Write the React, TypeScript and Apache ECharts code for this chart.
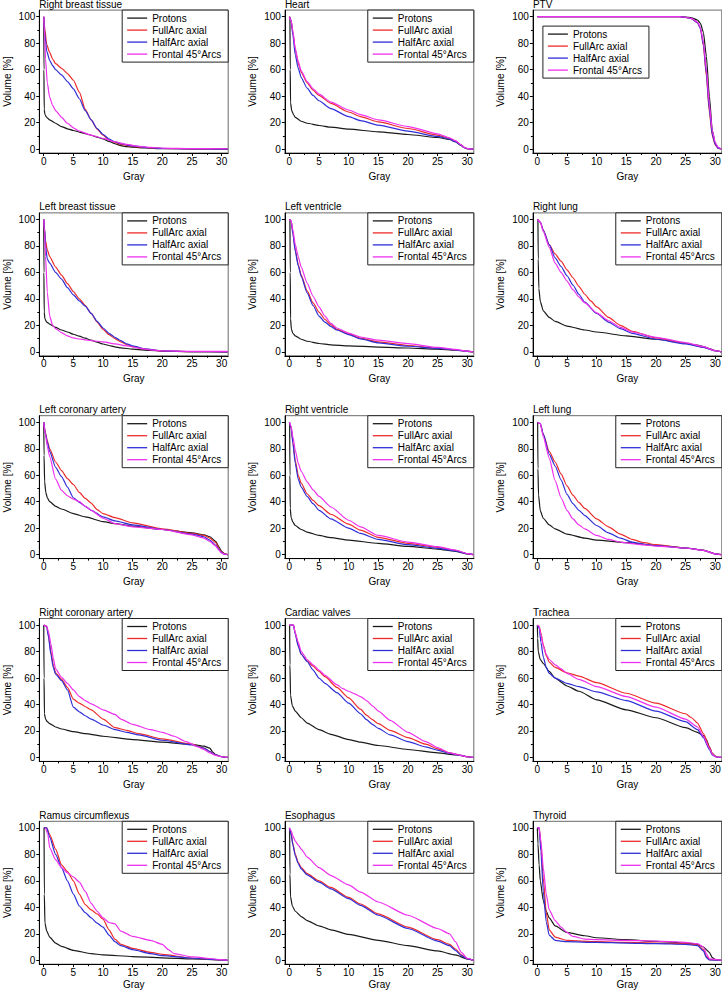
import React, { useEffect, useRef } from 'react';
import * as echarts from 'echarts';

const seriesNames = ['Protons', 'FullArc axial', 'HalfArc axial', 'Frontal 45°Arcs'];
const seriesColors = ['#1a1a1a', '#ee2b2b', '#2f2fd8', '#ee30ee'];
const xMajorTicks = [0, 5, 10, 15, 20, 25, 30];
const xMinorTicks = [2.5, 7.5, 12.5, 17.5, 22.5, 27.5];
const yMajorTicks = [0, 20, 40, 60, 80, 100];
const yMinorTicks = [10, 30, 50, 70, 90];
const panelTitles = [
  'Right breast tissue', 'Heart', 'PTV',
  'Left breast tissue', 'Left ventricle', 'Right lung',
  'Left coronary artery', 'Right ventricle', 'Left lung',
  'Right coronary artery', 'Cardiac valves', 'Trachea',
  'Ramus circumflexus', 'Esophagus', 'Thyroid',
];

// Right breast tissue
const rbtP = [[0,100],[0.03,60],[0.08,30],[0.2,26],[0.5,24],[1,22],[2,19.5],[3,17],[4,15.3],[5,14],[6,12.8],[7,11.6],[8,10.4],[9,9],[10,7.6],[11,5.8],[12,4],[13,2.6],[14,1.8],[15,1.4],[17,0.8],[20,0.3],[25,0.1],[31,0]];
const rbtF = [[0,100],[0.2,90],[0.5,79],[1,73],[1.5,68],[2,64.5],[3,61],[4,57],[5,52],[6,43],[7,30],[8,22],[9,15],[10,10.5],[11,7],[12,5],[13,3.5],[15,2],[18,0.9],[20,0.4],[25,0.1],[31,0]];
const rbtH = [[0,100],[0.2,86],[0.5,74],[1,67],[1.5,63],[2,60],[3,56],[4,51],[5,45.5],[6,38],[7,29],[8,22],[9,15.5],[10,11],[11,7.5],[12,5.5],[13,4],[15,2.4],[18,1],[20,0.4],[25,0.1],[31,0]];
const rbtR = [[0,100],[0.15,85],[0.3,68],[0.6,50],[1,39],[1.5,33],[2,29],[3,24],[4,19.5],[5,16],[6,13.5],[8,10.5],[10,8],[12,5.5],[14,3.5],[16,2],[18,1.2],[20,0.7],[25,0.3],[31,0.2]];

// Heart
const hrtP = [[0.1,100],[0.15,60],[0.2,35],[0.4,29],[0.7,26],[1,24],[2,21],[3,19.5],[5,17.8],[7,16.5],[10,15],[15,13],[20,11],[25,8.7],[27,7.2],[28,5.5],[29,2.5],[29.5,1],[30,0.2],[31,0]];
const hrtF = [[0,100],[0.3,97],[0.6,88],[1,75],[1.5,65],[2,58],[3,50],[4,44.5],[5,40.5],[7,34.5],[10,28],[12,24.5],[15,20.5],[20,15.5],[25,10.5],[27,8],[28,6],[29,3],[29.5,1.2],[30,0.3],[31,0]];
const hrtH = [[0,100],[0.3,97],[0.6,86],[1,71],[1.5,61],[2,54],[3,46],[4,40.5],[5,36.5],[7,30.5],[10,24.5],[12,21.5],[15,18],[20,13.5],[25,9.5],[27,7.5],[28,5.5],[29,2.8],[29.5,1],[30,0.3],[31,0]];
const hrtR = [[0,100],[0.3,97],[0.6,89],[1,76],[1.5,66],[2,59],[3,51],[4,45.5],[5,41.5],[7,35.5],[10,29.5],[12,26],[15,22],[20,17],[25,11.5],[27,8.5],[28,6.3],[29,3],[29.5,1.2],[30,0.3],[31,0]];

// PTV
const ptvP = [[0,100],[24,100],[25,99.8],[26,99.2],[27,97.5],[27.5,95],[28,88],[28.5,70],[29,40],[29.5,14],[30,4],[30.5,0.8],[31,0]];
const ptvF = [[0,100],[24,100],[25,99.5],[26,98.5],[27,95.5],[27.5,91],[28,78],[28.5,55],[29,28],[29.5,10],[30,3],[30.5,0.5],[31,0]];
const ptvH = [[0,100],[24,100],[25,99.5],[26,98.5],[27,95.5],[27.5,91],[28,79],[28.5,57],[29,30],[29.5,11],[30,3.5],[30.5,0.6],[31,0]];
const ptvR = [[0,100],[24,100],[25,99.6],[26,98.8],[27,96],[27.5,92],[28,81],[28.5,60],[29,34],[29.5,14],[30,5],[30.5,1.2],[31,0]];

// Left breast tissue
const lbtP = [[0,100],[0.03,60],[0.08,30],[0.2,25],[0.5,22.5],[1,21],[2,18.5],[3,16.5],[4,15],[5,13.3],[6,11.8],[7,10.3],[8,8.8],[9,7.3],[10,5.9],[11,4.8],[12,3.8],[13,3],[15,2],[18,1],[20,0.6],[25,0.2],[31,0]];
const lbtF = [[0,100],[0.15,92],[0.3,84],[0.6,77],[1,72],[2,64],[3,58],[4,51.5],[5,45.5],[6,40],[7,35],[8,29],[9,22.5],[10,17],[11,13],[12,10],[13,7.5],[14,5.5],[15,4],[17,2],[20,0.6],[25,0.2],[31,0]];
const lbtH = [[0,100],[0.15,93],[0.3,80],[0.6,70],[1,67],[2,60],[3,55],[4,48.5],[5,43],[6,38.5],[7,34.5],[8,29],[9,23],[10,18],[11,14],[12,11],[13,8.5],[14,6],[15,4.5],[17,2.2],[20,0.7],[25,0.2],[31,0]];
const lbtR = [[0,100],[0.15,90],[0.3,72],[0.6,45],[1,27],[1.5,20],[2,17.5],[3,14.5],[4,12],[5,10.5],[6,9.7],[7,9],[8,8.5],[10,7.5],[12,6],[14,4.5],[16,2.8],[18,1.5],[20,0.8],[25,0.4],[31,0.3]];

// Left ventricle
const lvP = [[0.1,100],[0.15,60],[0.2,25],[0.35,17],[0.6,14],[1,12],[2,9.5],[3,8],[5,6.3],[7,5.3],[10,4.5],[15,3.6],[20,2.9],[25,2],[28,1.2],[30,0.4],[31,0]];
const lvF = [[0,100],[0.3,99],[0.6,90],[1,77],[1.5,66],[2,58],[3,46],[4,37],[5,30],[6,24.5],[7,20.5],[8,17],[10,13.5],[12,10.3],[15,7.5],[20,4.8],[25,2.7],[28,1.5],[30,0.5],[31,0]];
const lvH = [[0,100],[0.3,99],[0.6,89],[1,76],[1.5,65],[2,57],[3,44.5],[4,35],[5,27],[6,22.5],[7,19.2],[8,16.5],[10,13],[12,9.8],[15,6.8],[20,4.2],[25,2.6],[28,1.4],[30,0.5],[31,0]];
const lvR = [[0,100],[0.3,99],[0.6,92],[1,81],[1.5,72],[2,64],[3,52],[4,42],[5,34],[6,27],[7,21.5],[8,18],[10,14.2],[12,11.2],[15,8.8],[20,6.2],[25,3.3],[28,1.8],[30,0.5],[31,0]];

// Right lung
const rlP = [[0.1,100],[0.15,70],[0.25,48],[0.5,38],[1,31],[2,26],[3,23],[5,19.5],[8,16.5],[10,15],[15,12],[20,9.5],[25,6.5],[27,5],[28,4],[29,2.5],[30,0.8],[31,0]];
const rlF = [[0,100],[0.5,98],[1,92],[2,81],[3,74],[4,68.5],[5,62],[6,56],[7,49.5],[8,43.5],[9,38.5],[10,34],[12,26],[14,20],[16,15.5],[20,10.5],[25,6.5],[28,3.5],[30,0.8],[31,0]];
const rlH = [[0,100],[0.5,98],[1,92],[2,81],[3,71],[4,64.5],[5,57.5],[6,50.5],[7,43.5],[8,37.5],[10,29],[12,22.5],[14,17.5],[16,14],[20,9.5],[25,6],[28,3.3],[30,0.8],[31,0]];
const rlR = [[0,100],[0.5,98],[1,91],[2,79],[3,67],[4,60],[5,53.5],[6,47],[7,41.5],[8,37],[10,29.5],[12,23.5],[14,18.5],[16,15],[20,11],[25,7],[28,4],[30,0.8],[31,0]];

// Left coronary artery
const lcaP = [[0,100],[0.05,75],[0.15,55],[0.35,47],[0.6,43],[1,40],[2,36.5],[3,34.5],[5,31],[7,28.5],[10,25],[12,23.5],[15,21.5],[20,19],[25,16.5],[27,15],[28,13.5],[29,10],[29.5,6],[30,2.5],[30.5,0.5],[31,0]];
const lcaF = [[0,100],[0.3,92],[0.6,86],[1,80],[2,70],[3,63.5],[4,57.5],[5,53],[6,47],[7,42.5],[8,39],[9,34],[10,31],[12,28],[15,24],[20,19.5],[25,16],[27,14.5],[28,12.5],[29,9],[29.5,5],[30,2],[30.5,0.5],[31,0]];
const lcaH = [[0,100],[0.3,91],[0.6,85],[1,78],[2,66],[3,59],[4,51],[5,43],[6,39.5],[7,36.5],[8,33.5],[10,28.5],[12,25.5],[15,22.5],[20,19],[25,15.5],[27,13.5],[28,11],[29,7],[29.5,4],[30,1.5],[30.5,0.3],[31,0]];
const lcaR = [[0,100],[0.3,90],[0.6,82],[1,74],[2,57],[3,48.5],[4,44.5],[5,42],[6,40],[7,36.5],[8,33.5],[10,27.5],[12,23.5],[15,21],[20,19],[25,15],[27,12.5],[28,10],[29,6.5],[29.5,3.5],[30,1.2],[30.5,0.3],[31,0]];

// Right ventricle
const rvP = [[0.05,100],[0.1,60],[0.15,35],[0.3,28],[0.6,24.5],[1,22],[2,19],[3,17],[5,14.5],[7,12.8],[10,11],[15,8.5],[20,6.2],[25,4.2],[28,2.5],[30,0.5],[31,0]];
const rvF = [[0,100],[0.3,96],[0.6,85],[1,71],[1.5,60],[2,54],[3,46],[4,41],[5,37],[7,30.5],[10,23],[12,18.5],[15,13],[20,8.5],[25,5.5],[28,3.2],[30,0.8],[31,0]];
const rvH = [[0,100],[0.3,96],[0.6,84],[1,69],[1.5,57],[2,51],[3,44],[4,38.5],[5,33.5],[7,27],[10,20],[12,16],[15,11.5],[20,7.5],[25,4.8],[28,2.8],[30,0.7],[31,0]];
const rvR = [[0,100],[0.3,97],[0.6,89],[1,79],[1.5,69],[2,63],[3,55],[4,49],[5,44],[7,36],[10,26],[12,21],[15,14.5],[20,9.5],[25,6],[28,3.5],[30,0.8],[31,0]];

// Left lung
const llP = [[0.05,100],[0.1,65],[0.2,45],[0.5,33],[1,27.5],[2,22.5],[3,19.5],[5,15.5],[8,12.5],[10,11],[15,9],[20,7],[25,5],[28,3.5],[29,2],[30,0.5],[31,0]];
const llF = [[0,100],[0.5,99],[1,91],[2,78],[3,70],[4,61],[5,52],[6,45],[7,39.5],[8,35],[10,27],[12,21],[14,15.5],[16,11.5],[18,9],[20,7.5],[25,5],[28,3.2],[30,0.6],[31,0]];
const llH = [[0,100],[0.5,99],[1,91],[2,76],[3,67],[4,56.5],[5,45.5],[6,38.5],[7,33.5],[8,29.5],[10,22],[12,16.5],[14,12.5],[16,9.5],[18,7.8],[20,6.8],[25,5],[28,3.2],[30,0.6],[31,0]];
const llR = [[0,100],[0.5,99],[1,89],[2,73],[3,56],[4,43],[5,33.5],[6,27],[7,22.5],[8,19.5],[10,14.5],[12,11.5],[14,9.5],[16,8.3],[18,7.3],[20,6.5],[25,5],[28,3.2],[30,0.6],[31,0]];

// Right coronary artery
const rcaP = [[0,100],[0.05,60],[0.12,33],[0.3,29],[0.6,27],[1,25.5],[2,23],[3,21.5],[5,19.5],[7,18],[10,16],[15,13.5],[20,11.5],[25,9.8],[27,8.5],[28,7],[28.5,4],[29,2],[30,0.5],[31,0]];
const rcaF = [[0,100],[0.5,99],[0.8,92],[1.2,80],[1.6,70],[2,64],[3,59],[4,53],[5,44],[6,41],[7,38.5],[8,36],[10,29],[12,22.5],[14,20.5],[16,18],[20,14],[25,10],[27,7],[28,4.5],[29,2],[30,0.5],[31,0]];
const rcaH = [[0,100],[0.5,99],[0.8,91],[1.2,78],[1.6,68],[2,63],[3,58],[4,51],[5,38],[6,34.5],[7,31.5],[8,29],[10,24.5],[12,21],[14,19],[16,17],[20,13],[25,9.5],[27,7],[28,4.5],[29,2],[30,0.5],[31,0]];
const rcaR = [[0,100],[0.5,99],[0.8,95],[1.2,86],[1.6,75],[2,67],[3,60.5],[4,56],[5,51],[6,46],[7,43],[8,40.5],[10,36],[12,32.5],[13,29],[15,25],[18,21],[20,19],[22,16],[24,12],[26,8],[27,6],[28,3.5],[29,1.5],[30,0.5],[31,0]];

// Cardiac valves
const cvP = [[0.05,100],[0.1,70],[0.2,47],[0.5,39],[1,35],[2,30],[3,26],[5,21],[7,17.5],[10,13.5],[12,11.5],[15,9],[20,6],[25,3.5],[28,2],[30,0.5],[31,0]];
const cvF = [[0,100],[0.7,100],[1,94],[1.5,85],[2,78],[3,73],[4,69],[5,65],[6,61],[8,53],[10,45],[12,36.5],[13,32],[14,28.5],[15,25.5],[17,20.5],[20,15],[23,10],[25,6.5],[27,3.5],[29,1.5],[30,0.5],[31,0]];
const cvH = [[0,100],[0.7,100],[1,93],[1.5,84],[2,78],[3,72.5],[4,66],[5,60],[6,56],[8,49],[10,41],[12,33],[13,28.5],[14,25],[15,22],[17,17],[20,12],[23,8],[25,5.5],[27,3],[29,1.5],[30,0.5],[31,0]];
const cvR = [[0,100],[0.7,100],[1,94],[1.5,87],[2,80],[3,74],[4,70],[5,66],[6,62],[8,55],[9,52],[10,50],[11,48],[12,46],[13,43],[14,39],[15,35],[17,28],[20,19],[23,12],[25,7.5],[27,3.5],[29,1.5],[30,0.5],[31,0]];

// Trachea
const trP = [[0,100],[0.05,90],[0.15,80],[0.5,74],[1,71],[2,65],[3,60],[5,54],[7,50],[10,43.5],[15,36],[20,30],[25,22.5],[27,19],[28,16.5],[28.5,13.5],[29,8],[29.5,3],[30,1],[30.5,0],[31,0]];
const trF = [[0,100],[0.3,99],[0.6,94],[1,85],[1.5,77],[2,72],[3,68],[5,64],[7,61.5],[10,56.5],[15,48.5],[20,41],[25,33],[26,30],[27,26],[28,18],[29,8],[29.5,3],[30,1],[30.5,0],[31,0]];
const trH = [[0,100],[0.3,98],[0.6,87],[1,76],[1.5,68],[2,63.5],[3,60],[5,56],[7,53.5],[10,49.5],[15,43],[20,35],[25,27],[27,21],[28,15],[29,6],[29.5,2],[30,0.5],[31,0]];
const trR = [[0,100],[0.3,99],[0.6,93],[1,84],[1.5,78],[2,74],[3,70],[4,67],[5,63.5],[7,59],[10,53.5],[15,46],[20,38],[25,29],[27,23],[28,16],[29,7],[29.5,2.5],[30,0.5],[31,0]];

// Ramus circumflexus
const rcxP = [[0.05,100],[0.1,50],[0.2,28],[0.5,22],[1,17.5],[2,13],[3,10.5],[5,7.5],[8,5],[10,4],[15,2.8],[20,1.8],[25,1],[30,0.3],[31,0]];
const rcxF = [[0,100],[0.5,100],[1,95],[2,84],[3,72],[4,67],[5,60],[6,50],[7,42],[8,38],[9,35],[10,31],[11,23],[12,16],[13,12],[15,9],[18,6],[20,4.5],[25,1.5],[30,0.3],[31,0]];
const rcxH = [[0,100],[0.5,100],[1,93],[2,80],[3,70],[4,60],[5,50],[6,41],[7,36],[8,32],[9,28],[10,25],[11,19],[12,14],[13,11],[15,8],[18,5],[20,3.5],[25,1.5],[30,0.3],[31,0]];
const rcxR = [[0.3,100],[0.7,95],[1,85],[2,76],[3,70],[4,66],[5,63],[6,59],[7,52],[8,43],[9,37],[10,32],[11,28.5],[12,27.5],[13,22],[15,18],[18,15],[20,12],[21,8],[22,5],[25,2.5],[30,0.5],[31,0]];

// Esophagus
const esP = [[0.05,100],[0.1,65],[0.2,48],[0.5,41],[1,37],[2,33],[3,30],[5,26],[7,23],[10,19.5],[15,15],[20,11],[25,7],[28,4],[30,1],[31,0]];
const esF = [[0,100],[0.3,96],[0.6,88],[1,80],[1.5,74],[2,70],[3,65.5],[5,60],[7,55],[10,47.5],[12,42.5],[15,35],[20,25],[25,15.5],[27,12],[28,8.5],[29,4],[30,1],[31,0]];
const esH = [[0,100],[0.3,95],[0.6,87],[1,79],[1.5,73],[2,69],[3,64.5],[5,59],[7,54],[10,46.5],[12,41.5],[15,34],[20,24],[25,14.5],[27,11],[28,7.5],[29,3.5],[30,1],[31,0]];
const esR = [[0,100],[0.3,98],[0.6,94],[1,90],[1.5,87],[2,84],[3,78],[5,70],[7,64],[10,57],[12,51.5],[15,44],[20,34],[25,24],[27,20],[28,14],[29,6],[30,1.5],[31,0]];

// Thyroid
const thP = [[0,100],[0.1,88],[0.3,72],[0.5,60],[1,45],[1.5,37],[2,32],[3,26],[5,21],[8,18.5],[10,17],[15,15.5],[20,14.2],[25,13],[27,12],[28,10],[29,6],[29.5,2],[30,0.5],[31,0]];
const thF = [[0,100],[0.3,100],[0.6,88],[1,62],[1.5,36],[2,23],[3,17.5],[5,15],[10,14],[15,13.5],[20,13],[25,12.5],[27,11.5],[28,8],[28.5,3],[29,0.5],[31,0]];
const thH = [[0,100],[0.3,100],[0.6,82],[1,52],[1.5,29],[2,19],[3,15],[5,14],[10,13.5],[15,13],[20,12.5],[25,12],[27,11],[28,7],[28.5,2],[29,0.3],[31,0]];
const thR = [[0,100],[0.3,100],[0.6,90],[1,70],[1.5,50],[2,38],[3,30],[4,25],[5,21],[6,18],[8,16],[10,15.5],[15,15],[20,14.5],[25,13.5],[27,12.5],[28,10],[28.5,5],[29,1],[31,0]];

const panelData = [
  [rbtP, rbtF, rbtH, rbtR], [hrtP, hrtF, hrtH, hrtR], [ptvP, ptvF, ptvH, ptvR],
  [lbtP, lbtF, lbtH, lbtR], [lvP, lvF, lvH, lvR], [rlP, rlF, rlH, rlR],
  [lcaP, lcaF, lcaH, lcaR], [rvP, rvF, rvH, rvR], [llP, llF, llH, llR],
  [rcaP, rcaF, rcaH, rcaR], [cvP, cvF, cvH, cvR], [trP, trF, trH, trR],
  [rcxP, rcxF, rcxH, rcxR], [esP, esF, esH, esR], [thP, thF, thH, thR],
];

const W = 722;
const H = 991;
const FONT = '"Liberation Sans", Arial, Helvetica, sans-serif';
const colLeft = [39.3, 284.9, 532.9];
const gridW = 188.9;
const gridH = 142.9;
const rowTop = (r: number) => 10.1 + 202.8 * r;
const X_MIN = -0.75;
const X_MAX = 31.1;
const Y_MIN = -3;
const Y_MAX = 105;

function buildOption() {
  const grid: any[] = [];
  const xAxis: any[] = [];
  const yAxis: any[] = [];
  const series: any[] = [];
  const legend: any[] = [];
  const graphic: any[] = [];
  const n = panelTitles.length;
  const txt = { fontSize: 10, color: '#000', fontFamily: FONT };

  for (let i = 0; i < n; i++) {
    const c = i % 3;
    const r = Math.floor(i / 3);
    const left = colLeft[c];
    const top = rowTop(r);
    grid.push({
      left, top, width: gridW, height: gridH,
      show: true, borderColor: '#6a6a6a', borderWidth: 1,
      backgroundColor: 'transparent', containLabel: false, outerBoundsMode: 'none',
    });
    xAxis.push({
      gridIndex: i, type: 'value', min: X_MIN, max: X_MAX, position: 'bottom',
      axisLine: { show: true, onZero: false, lineStyle: { color: '#000', width: 1 } },
      axisTick: { show: true, customValues: xMajorTicks, length: 3, lineStyle: { color: '#000', width: 1 } },
      axisLabel: { show: true, customValues: xMajorTicks, margin: 3, ...txt },
      splitLine: { show: false },
      name: 'Gray', nameLocation: 'middle', nameGap: r === 4 ? 15 : 18, nameMoveOverlap: false,
      nameTextStyle: txt,
    });
    yAxis.push({
      gridIndex: i, type: 'value', min: Y_MIN, max: Y_MAX, position: 'left',
      axisLine: { show: true, onZero: false, lineStyle: { color: '#000', width: 1 } },
      axisTick: { show: true, customValues: yMajorTicks, length: 3, lineStyle: { color: '#000', width: 1 } },
      axisLabel: { show: true, customValues: yMajorTicks, margin: 4, ...txt },
      splitLine: { show: false },
      name: 'Volume [%]', nameLocation: 'middle', nameGap: 27, nameRotate: 90, nameMoveOverlap: false,
      nameTextStyle: txt,
    });
    graphic.push({
      type: 'text', x: left, y: top - 6,
      style: { text: panelTitles[i], fontSize: 10, fontFamily: FONT, fill: '#000', verticalAlign: 'middle', align: 'left' },
      silent: true,
    });
    const isPTV = panelTitles[i] === 'PTV';
    const lg: any = {
      data: seriesNames, orient: 'vertical', selectedMode: false,
      icon: 'rect', itemWidth: 20, itemHeight: 1.3, itemGap: 2,
      padding: [3, 7, 3, 5], borderColor: '#222', borderWidth: 1, backgroundColor: '#fff',
      textStyle: { ...txt, lineHeight: 10 },
    };
    if (isPTV) {
      lg.left = left + 10;
      lg.top = top + 16;
    } else {
      lg.right = W - (left + gridW);
      lg.top = top;
    }
    legend.push(lg);

    panelData[i].forEach((d, s) => {
      series.push({
        type: 'line', name: seriesNames[s], xAxisIndex: i, yAxisIndex: i,
        data: d, symbol: 'none', showSymbol: false,
        smooth: 0.2, smoothMonotone: 'x', clip: true, silent: true,
        lineStyle: { color: seriesColors[s], width: 1.2 },
        itemStyle: { color: seriesColors[s] },
        z: 3 + s,
      });
    });
  }
  // minor tick axes
  for (let i = 0; i < n; i++) {
    xAxis.push({
      gridIndex: i, type: 'value', min: X_MIN, max: X_MAX, position: 'bottom',
      axisLine: { show: false, onZero: false },
      axisTick: { show: true, customValues: xMinorTicks, length: 2, lineStyle: { color: '#000', width: 1 } },
      axisLabel: { show: false }, splitLine: { show: false },
    });
    yAxis.push({
      gridIndex: i, type: 'value', min: Y_MIN, max: Y_MAX, position: 'left',
      axisLine: { show: false, onZero: false },
      axisTick: { show: true, customValues: yMinorTicks, length: 2, lineStyle: { color: '#000', width: 1 } },
      axisLabel: { show: false }, splitLine: { show: false },
    });
  }

  return {
    animation: false,
    backgroundColor: '#fff',
    textStyle: { fontFamily: FONT },
    grid, xAxis, yAxis, series, legend, graphic,
  };
}

export default function App() {
  const ref = useRef<HTMLDivElement>(null);
  useEffect(() => {
    if (!ref.current) return;
    const chart = echarts.init(ref.current, undefined, { renderer: 'svg' });
    chart.setOption(buildOption() as any);
    return () => chart.dispose();
  }, []);
  return (
    <div
      ref={ref}
      style={{ position: 'absolute', left: 0, top: 0, width: W, height: H, background: '#fff' }}
    />
  );
}
